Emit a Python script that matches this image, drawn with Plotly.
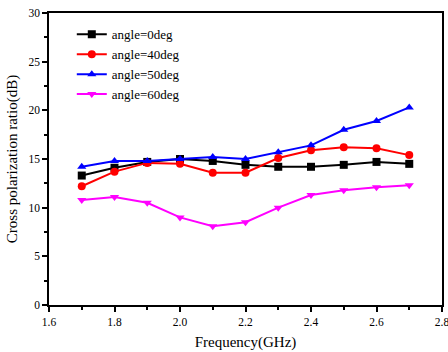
import plotly.graph_objects as go

freq = [1.7, 1.8, 1.9, 2.0, 2.1, 2.2, 2.3, 2.4, 2.5, 2.6, 2.7]
angle0 = [13.3, 14.1, 14.7, 15.0, 14.8, 14.4, 14.2, 14.2, 14.4, 14.7, 14.5]
angle40 = [12.2, 13.7, 14.6, 14.5, 13.6, 13.6, 15.1, 15.9, 16.2, 16.1, 15.4]
angle50 = [14.2, 14.8, 14.8, 15.0, 15.2, 15.0, 15.7, 16.4, 18.0, 18.9, 20.3]
angle60 = [10.8, 11.1, 10.5, 9.0, 8.1, 8.5, 10.0, 11.3, 11.8, 12.1, 12.3]

series = [
    ("angle=0deg", angle0, "black", "square"),
    ("angle=40deg", angle40, "red", "circle"),
    ("angle=50deg", angle50, "blue", "triangle-up"),
    ("angle=60deg", angle60, "magenta", "triangle-down"),
]

font = "Liberation Serif, Times New Roman, serif"
fig = go.Figure()
for name, ys, col, sym in series:
    fig.add_trace(go.Scatter(x=freq, y=ys, name=name, mode="lines+markers",
                             line=dict(color=col, width=2),
                             marker=dict(symbol=sym, size=8, color=col)))

axis_common = dict(showgrid=False, zeroline=False, showline=True, linecolor="black",
                   linewidth=1.5, mirror=True, ticks="outside", ticklen=5,
                   tickcolor="black", tickwidth=1.5, ticklabeloverflow="allow",
                   tickfont=dict(family=font, size=11.5, color="black"))
fig.update_xaxes(range=[1.6, 2.8], tick0=1.6, dtick=0.2, tickformat=".1f",
                 minor=dict(ticks="outside", ticklen=3, dtick=0.1, tickcolor="black", tickwidth=1.5),
                 title=dict(text="Frequency(GHz)", font=dict(family=font, size=15, color="black"), standoff=10),
                 **axis_common)
fig.update_yaxes(range=[0, 30], dtick=5,
                 minor=dict(ticks="outside", ticklen=3, dtick=2.5, tickcolor="black", tickwidth=1.5),
                 title=dict(text="Cross polarization ratio(dB)", font=dict(family=font, size=15, color="black"), standoff=7),
                 **axis_common)
fig.update_layout(width=448, height=352, margin=dict(l=49, r=6, t=13, b=47, autoexpand=False),
                  plot_bgcolor="white", paper_bgcolor="white",
                  legend=dict(x=0.058, y=0.978, xanchor="left", yanchor="top",
                              bgcolor="rgba(0,0,0,0)", tracegroupgap=0,
                              font=dict(family=font, size=13, color="black")),
                  font=dict(family=font))
fig.write_html("out.html", config={"displayModeBar": False},
               post_script="document.body.style.margin='0';")
